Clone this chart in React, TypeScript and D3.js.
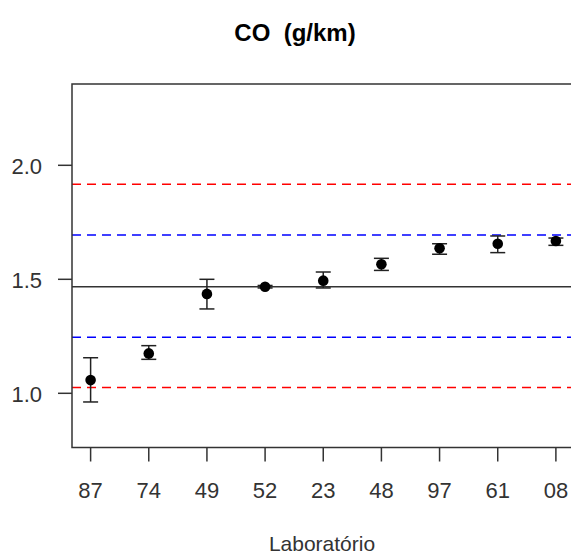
import React from "react";
import * as d3 from "d3";

const labs = ["87", "74", "49", "52", "23", "48", "97", "61", "08"];
const means = [1.058, 1.175, 1.436, 1.4675, 1.494, 1.566, 1.636, 1.656, 1.668];
const lows = [0.962, 1.149, 1.37, 1.462, 1.462, 1.539, 1.61, 1.617, 1.649];
const highs = [1.156, 1.209, 1.5, 1.473, 1.532, 1.592, 1.656, 1.69, 1.681];
const yTicks = [1.0, 1.5, 2.0];
const centerLine = 1.4675;
const blueLines = [1.246, 1.694];
const redLines = [1.026, 1.917];

const W = 571;
const H = 557;

export default function App() {
  const x = d3.scaleLinear().domain([0.68, 9.32]).range([72, 574.5]);
  const y = d3.scaleLinear().domain([0.7623, 2.3566]).range([447.5, 84]);
  const [x0, x1] = x.range();
  const [yb, yt] = y.range();
  const axisColor = "#333";
  const font = "Liberation Sans, Arial, sans-serif";
  return (
    <svg width={W} height={H} style={{ position: "absolute", left: 0, top: 0 }}>
      <rect width={W} height={H} fill="#fff" />
      <text x={295} y={41} textAnchor="middle" fontFamily={font} fontWeight="bold" fontSize={24} fill="#000" style={{ whiteSpace: "pre" }}>
        {"CO  (g/km)"}
      </text>
      {redLines.map((v, i) => (
        <line key={"r" + i} x1={x0} x2={x1} y1={y(v)} y2={y(v)} stroke="#ff0000" strokeWidth={1.5} strokeDasharray="9,6" />
      ))}
      {blueLines.map((v, i) => (
        <line key={"b" + i} x1={x0} x2={x1} y1={y(v)} y2={y(v)} stroke="#0000ff" strokeWidth={1.5} strokeDasharray="9,6" />
      ))}
      <line x1={x0} x2={x1} y1={y(centerLine)} y2={y(centerLine)} stroke={axisColor} strokeWidth={1.5} />
      {means.map((m, i) => {
        const cx = x(i + 1);
        return (
          <g key={"p" + i}>
            <line x1={cx} x2={cx} y1={y(lows[i])} y2={y(highs[i])} stroke="#222" strokeWidth={1.5} />
            <line x1={cx - 7.5} x2={cx + 7.5} y1={y(lows[i])} y2={y(lows[i])} stroke="#222" strokeWidth={1.5} />
            <line x1={cx - 7.5} x2={cx + 7.5} y1={y(highs[i])} y2={y(highs[i])} stroke="#222" strokeWidth={1.5} />
            <circle cx={cx} cy={y(m)} r={5.3} fill="#000" />
          </g>
        );
      })}
      <rect x={x0} y={yt} width={x1 - x0} height={yb - yt} fill="none" stroke={axisColor} strokeWidth={1.5} />
      {yTicks.map((t) => (
        <g key={"yt" + t}>
          <line x1={x0 - 14} x2={x0} y1={y(t)} y2={y(t)} stroke={axisColor} strokeWidth={1.5} />
          <text x={42} y={y(t) + 9} textAnchor="end" fontFamily={font} fontSize={22} fill="#333">
            {d3.format(".1f")(t)}
          </text>
        </g>
      ))}
      {labs.map((l, i) => (
        <g key={"xt" + i}>
          <line x1={x(i + 1)} x2={x(i + 1)} y1={yb} y2={yb + 14} stroke={axisColor} strokeWidth={1.5} />
          <text x={x(i + 1)} y={498} textAnchor="middle" fontFamily={font} fontSize={22} fill="#333">
            {l}
          </text>
        </g>
      ))}
      <text x={322} y={551} textAnchor="middle" fontFamily={font} fontSize={21} fill="#333">
        Laboratório
      </text>
    </svg>
  );
}
